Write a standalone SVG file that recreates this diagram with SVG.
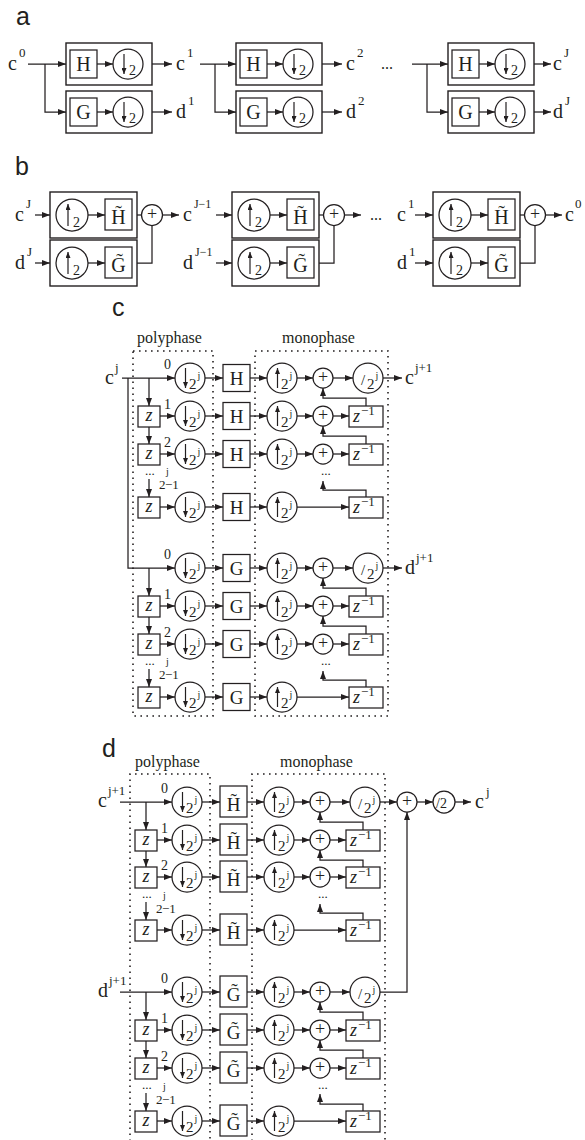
<svg xmlns="http://www.w3.org/2000/svg" width="585" height="1140" viewBox="0 0 585 1140">
<style>
.k{stroke:#231f20;stroke-width:1.25;fill:none}
.a{marker-end:url(#ah)}
.n{fill:#fff;stroke:#231f20;stroke-width:1.25}
.o{fill:none;stroke:#231f20;stroke-width:1.4}
.d{fill:none;stroke:#231f20;stroke-width:1.6;stroke-dasharray:1.6 4.4}
.i{stroke:#231f20;stroke-width:1.2;marker-end:url(#as)}
.t{font-family:"Liberation Serif","Times New Roman",serif;fill:#231f20}
.L{font-family:"Liberation Sans",Arial,sans-serif;font-size:25px;fill:#231f20}
.z{font-style:italic}
</style>
<defs>
<marker id="ah" viewBox="0 0 8 6" refX="8" refY="3" markerWidth="8" markerHeight="6" markerUnits="userSpaceOnUse" orient="auto"><path d="M0,0L8,3L0,6z" fill="#231f20"/></marker>
<marker id="as" viewBox="0 0 6 5" refX="6" refY="2.5" markerWidth="6" markerHeight="5" markerUnits="userSpaceOnUse" orient="auto"><path d="M0,0L6,2.5L0,5z" fill="#231f20"/></marker>
</defs>
<rect width="585" height="1140" fill="#fff"/>

<!-- ================= PART A ================= -->
<text class="L" x="16" y="25">a</text>
<g id="a-nodes">
<g id="a1-boxH"><rect class="o" x="66" y="43" width="86" height="42"/></g>
<g id="a1-boxG"><rect class="o" x="66" y="91" width="86" height="42"/></g>
<g id="a1-H" transform="translate(83.5,64)"><rect class="n" x="-13.5" y="-14" width="27" height="28"/><text class="t" y="7" font-size="20" text-anchor="middle">H</text></g>
<g id="a1-G" transform="translate(83.5,112)"><rect class="n" x="-13.5" y="-14" width="27" height="28"/><text class="t" y="7" font-size="20" text-anchor="middle">G</text></g>
<g id="a1-dnH" transform="translate(128,64)"><circle class="n" r="15"/><line class="i" x1="-4" y1="-10" x2="-4" y2="10"/><text class="t" x="1" y="11" font-size="14">2</text></g>
<g id="a1-dnG" transform="translate(128,112)"><circle class="n" r="15"/><line class="i" x1="-4" y1="-10" x2="-4" y2="10"/><text class="t" x="1" y="11" font-size="14">2</text></g>
<g id="a2-boxH"><rect class="o" x="236" y="43" width="86" height="42"/></g>
<g id="a2-boxG"><rect class="o" x="236" y="91" width="86" height="42"/></g>
<g id="a2-H" transform="translate(253.5,64)"><rect class="n" x="-13.5" y="-14" width="27" height="28"/><text class="t" y="7" font-size="20" text-anchor="middle">H</text></g>
<g id="a2-G" transform="translate(253.5,112)"><rect class="n" x="-13.5" y="-14" width="27" height="28"/><text class="t" y="7" font-size="20" text-anchor="middle">G</text></g>
<g id="a2-dnH" transform="translate(298,64)"><circle class="n" r="15"/><line class="i" x1="-4" y1="-10" x2="-4" y2="10"/><text class="t" x="1" y="11" font-size="14">2</text></g>
<g id="a2-dnG" transform="translate(298,112)"><circle class="n" r="15"/><line class="i" x1="-4" y1="-10" x2="-4" y2="10"/><text class="t" x="1" y="11" font-size="14">2</text></g>
<g id="a3-boxH"><rect class="o" x="448" y="43" width="86" height="42"/></g>
<g id="a3-boxG"><rect class="o" x="448" y="91" width="86" height="42"/></g>
<g id="a3-H" transform="translate(465.5,64)"><rect class="n" x="-13.5" y="-14" width="27" height="28"/><text class="t" y="7" font-size="20" text-anchor="middle">H</text></g>
<g id="a3-G" transform="translate(465.5,112)"><rect class="n" x="-13.5" y="-14" width="27" height="28"/><text class="t" y="7" font-size="20" text-anchor="middle">G</text></g>
<g id="a3-dnH" transform="translate(510,64)"><circle class="n" r="15"/><line class="i" x1="-4" y1="-10" x2="-4" y2="10"/><text class="t" x="1" y="11" font-size="14">2</text></g>
<g id="a3-dnG" transform="translate(510,112)"><circle class="n" r="15"/><line class="i" x1="-4" y1="-10" x2="-4" y2="10"/><text class="t" x="1" y="11" font-size="14">2</text></g>
</g>
<g id="a-texts">
<text class="t" x="8" y="70" font-size="20">c<tspan dx="2" dy="-13" font-size="13">0</tspan></text>
<text class="t" x="176" y="70" font-size="20">c<tspan dx="2" dy="-13" font-size="13">1</tspan></text>
<text class="t" x="176" y="118" font-size="20">d<tspan dx="2" dy="-13" font-size="13">1</tspan></text>
<text class="t" x="346" y="70" font-size="20">c<tspan dx="2" dy="-13" font-size="13">2</tspan></text>
<text class="t" x="346" y="118" font-size="20">d<tspan dx="2" dy="-13" font-size="13">2</tspan></text>
<text class="t" x="381" y="69" font-size="16">...</text>
<text class="t" x="553" y="70" font-size="20">c<tspan dx="2" dy="-13" font-size="13">J</tspan></text>
<text class="t" x="553" y="118" font-size="20">d<tspan dx="2" dy="-13" font-size="13">J</tspan></text>
</g>

<!-- ================= PART B ================= -->
<text class="L" x="15" y="175">b</text>
<g id="b-nodes">
<g id="b1-boxH"><rect class="o" x="50" y="192" width="87" height="46"/></g>
<g id="b1-boxG"><rect class="o" x="50" y="240" width="87" height="46"/></g>
<g id="b1-upH" transform="translate(72,215)"><circle class="n" r="16"/><line class="i" x1="-4" y1="11" x2="-4" y2="-11"/><text class="t" x="1" y="12" font-size="14">2</text></g>
<g id="b1-upG" transform="translate(72,263)"><circle class="n" r="16"/><line class="i" x1="-4" y1="11" x2="-4" y2="-11"/><text class="t" x="1" y="12" font-size="14">2</text></g>
<g id="b1-Ht" transform="translate(118.5,215)"><rect class="n" x="-13.5" y="-16" width="27" height="31"/><text class="t" y="9" font-size="20" text-anchor="middle">H̃</text></g>
<g id="b1-Gt" transform="translate(118.5,263)"><rect class="n" x="-13.5" y="-16" width="27" height="31"/><text class="t" y="9" font-size="20" text-anchor="middle">G̃</text></g>
<g id="b1-add" transform="translate(152,215)"><circle class="n" r="10.5"/><text class="t" y="5" font-size="18" text-anchor="middle">+</text></g>
<g id="b2-boxH"><rect class="o" x="232" y="192" width="87" height="46"/></g>
<g id="b2-boxG"><rect class="o" x="232" y="240" width="87" height="46"/></g>
<g id="b2-upH" transform="translate(254,215)"><circle class="n" r="16"/><line class="i" x1="-4" y1="11" x2="-4" y2="-11"/><text class="t" x="1" y="12" font-size="14">2</text></g>
<g id="b2-upG" transform="translate(254,263)"><circle class="n" r="16"/><line class="i" x1="-4" y1="11" x2="-4" y2="-11"/><text class="t" x="1" y="12" font-size="14">2</text></g>
<g id="b2-Ht" transform="translate(300.5,215)"><rect class="n" x="-13.5" y="-16" width="27" height="31"/><text class="t" y="9" font-size="20" text-anchor="middle">H̃</text></g>
<g id="b2-Gt" transform="translate(300.5,263)"><rect class="n" x="-13.5" y="-16" width="27" height="31"/><text class="t" y="9" font-size="20" text-anchor="middle">G̃</text></g>
<g id="b2-add" transform="translate(334,215)"><circle class="n" r="10.5"/><text class="t" y="5" font-size="18" text-anchor="middle">+</text></g>
<g id="b3-boxH"><rect class="o" x="433" y="192" width="87" height="46"/></g>
<g id="b3-boxG"><rect class="o" x="433" y="240" width="87" height="46"/></g>
<g id="b3-upH" transform="translate(455,215)"><circle class="n" r="16"/><line class="i" x1="-4" y1="11" x2="-4" y2="-11"/><text class="t" x="1" y="12" font-size="14">2</text></g>
<g id="b3-upG" transform="translate(455,263)"><circle class="n" r="16"/><line class="i" x1="-4" y1="11" x2="-4" y2="-11"/><text class="t" x="1" y="12" font-size="14">2</text></g>
<g id="b3-Ht" transform="translate(501.5,215)"><rect class="n" x="-13.5" y="-16" width="27" height="31"/><text class="t" y="9" font-size="20" text-anchor="middle">H̃</text></g>
<g id="b3-Gt" transform="translate(501.5,263)"><rect class="n" x="-13.5" y="-16" width="27" height="31"/><text class="t" y="9" font-size="20" text-anchor="middle">G̃</text></g>
<g id="b3-add" transform="translate(535,215)"><circle class="n" r="10.5"/><text class="t" y="5" font-size="18" text-anchor="middle">+</text></g>
</g>
<g id="b-texts">
<text class="t" x="15" y="221" font-size="20">c<tspan dx="2" dy="-13" font-size="13">J</tspan></text>
<text class="t" x="15" y="269" font-size="20">d<tspan dx="2" dy="-13" font-size="13">J</tspan></text>
<text class="t" x="183" y="221" font-size="20">c<tspan dx="2" dy="-13" font-size="12">J−1</tspan></text>
<text class="t" x="183" y="269" font-size="20">d<tspan dx="2" dy="-13" font-size="12">J−1</tspan></text>
<text class="t" x="370" y="220" font-size="16">...</text>
<text class="t" x="397" y="221" font-size="20">c<tspan dx="2" dy="-13" font-size="13">1</tspan></text>
<text class="t" x="397" y="269" font-size="20">d<tspan dx="2" dy="-13" font-size="13">1</tspan></text>
<text class="t" x="565" y="221" font-size="20">c<tspan dx="1" dy="-13" font-size="13">0</tspan></text>
</g>

<!-- ================= PART C ================= -->
<text class="L" x="112" y="316">c</text>
<text class="t" x="137" y="343" font-size="16">polyphase</text>
<text class="t" x="282" y="343" font-size="16">monophase</text>
<g id="c-frames">
<rect class="d" x="133" y="351" width="80" height="365"/>
<rect class="d" x="255" y="351" width="133" height="365"/>
</g>
<g id="c-nodes">
<g id="c-h0-down" transform="translate(190,378)"><circle class="n" r="15"/><line class="i" x1="-4.5" y1="-10" x2="-4.5" y2="10"/><text class="t" x="-1" y="11" font-size="15">2<tspan dx="1" dy="-10" font-size="10">j</tspan></text></g>
<g id="c-h0-H" transform="translate(236.5,378)"><rect class="n" x="-13.5" y="-13.5" width="27" height="27"/><text class="t" y="7" font-size="19" text-anchor="middle">H</text></g>
<g id="c-h0-up" transform="translate(282,378)"><circle class="n" r="15"/><line class="i" x1="-4.5" y1="10" x2="-4.5" y2="-10"/><text class="t" x="-1" y="11" font-size="15">2<tspan dx="1" dy="-10" font-size="10">j</tspan></text></g>
<g id="c-h0-add" transform="translate(323,378)"><circle class="n" r="10"/><text class="t" y="5" font-size="18" text-anchor="middle">+</text></g>
<g id="c-h0-div" transform="translate(368,378)"><circle class="n" r="15"/><text class="t" x="-7" y="7" font-size="15">/</text><text class="t" x="-1" y="11" font-size="15">2<tspan dx="1" dy="-10" font-size="10">j</tspan></text></g>

<g id="c-h1-z" transform="translate(149,416)"><rect class="n" x="-11" y="-10" width="22" height="21"/><text class="t z" y="5" font-size="18" text-anchor="middle">z</text></g>
<g id="c-h1-down" transform="translate(190,416)"><circle class="n" r="15"/><line class="i" x1="-4.5" y1="-10" x2="-4.5" y2="10"/><text class="t" x="-1" y="11" font-size="15">2<tspan dx="1" dy="-10" font-size="10">j</tspan></text></g>
<g id="c-h1-H" transform="translate(236.5,416)"><rect class="n" x="-13.5" y="-13.5" width="27" height="27"/><text class="t" y="7" font-size="19" text-anchor="middle">H</text></g>
<g id="c-h1-up" transform="translate(282,416)"><circle class="n" r="15"/><line class="i" x1="-4.5" y1="10" x2="-4.5" y2="-10"/><text class="t" x="-1" y="11" font-size="15">2<tspan dx="1" dy="-10" font-size="10">j</tspan></text></g>
<g id="c-h1-add" transform="translate(323,416)"><circle class="n" r="10"/><text class="t" y="5" font-size="18" text-anchor="middle">+</text></g>
<g id="c-h1-zinv" transform="translate(366,416)"><rect class="n" x="-17" y="-10" width="34" height="21"/><text class="t" x="-13" y="6" font-size="18"><tspan class="z">z</tspan><tspan dx="1" dy="-7" font-size="13">−1</tspan></text></g>

<g id="c-h2-z" transform="translate(149,454)"><rect class="n" x="-11" y="-10" width="22" height="21"/><text class="t z" y="5" font-size="18" text-anchor="middle">z</text></g>
<g id="c-h2-down" transform="translate(190,454)"><circle class="n" r="15"/><line class="i" x1="-4.5" y1="-10" x2="-4.5" y2="10"/><text class="t" x="-1" y="11" font-size="15">2<tspan dx="1" dy="-10" font-size="10">j</tspan></text></g>
<g id="c-h2-H" transform="translate(236.5,454)"><rect class="n" x="-13.5" y="-13.5" width="27" height="27"/><text class="t" y="7" font-size="19" text-anchor="middle">H</text></g>
<g id="c-h2-up" transform="translate(282,454)"><circle class="n" r="15"/><line class="i" x1="-4.5" y1="10" x2="-4.5" y2="-10"/><text class="t" x="-1" y="11" font-size="15">2<tspan dx="1" dy="-10" font-size="10">j</tspan></text></g>
<g id="c-h2-add" transform="translate(323,454)"><circle class="n" r="10"/><text class="t" y="5" font-size="18" text-anchor="middle">+</text></g>
<g id="c-h2-zinv" transform="translate(366,454)"><rect class="n" x="-17" y="-10" width="34" height="21"/><text class="t" x="-13" y="6" font-size="18"><tspan class="z">z</tspan><tspan dx="1" dy="-7" font-size="13">−1</tspan></text></g>

<g id="c-h3-z" transform="translate(149,507)"><rect class="n" x="-11" y="-10" width="22" height="21"/><text class="t z" y="5" font-size="18" text-anchor="middle">z</text></g>
<g id="c-h3-down" transform="translate(190,507)"><circle class="n" r="15"/><line class="i" x1="-4.5" y1="-10" x2="-4.5" y2="10"/><text class="t" x="-1" y="11" font-size="15">2<tspan dx="1" dy="-10" font-size="10">j</tspan></text></g>
<g id="c-h3-H" transform="translate(236.5,507)"><rect class="n" x="-13.5" y="-13.5" width="27" height="27"/><text class="t" y="7" font-size="19" text-anchor="middle">H</text></g>
<g id="c-h3-up" transform="translate(282,507)"><circle class="n" r="15"/><line class="i" x1="-4.5" y1="10" x2="-4.5" y2="-10"/><text class="t" x="-1" y="11" font-size="15">2<tspan dx="1" dy="-10" font-size="10">j</tspan></text></g>
<g id="c-h3-zinv" transform="translate(366,507)"><rect class="n" x="-17" y="-10" width="34" height="21"/><text class="t" x="-13" y="6" font-size="18"><tspan class="z">z</tspan><tspan dx="1" dy="-7" font-size="13">−1</tspan></text></g>

<g id="c-g0-down" transform="translate(190,568)"><circle class="n" r="15"/><line class="i" x1="-4.5" y1="-10" x2="-4.5" y2="10"/><text class="t" x="-1" y="11" font-size="15">2<tspan dx="1" dy="-10" font-size="10">j</tspan></text></g>
<g id="c-g0-G" transform="translate(236.5,568)"><rect class="n" x="-13.5" y="-13.5" width="27" height="27"/><text class="t" y="7" font-size="19" text-anchor="middle">G</text></g>
<g id="c-g0-up" transform="translate(282,568)"><circle class="n" r="15"/><line class="i" x1="-4.5" y1="10" x2="-4.5" y2="-10"/><text class="t" x="-1" y="11" font-size="15">2<tspan dx="1" dy="-10" font-size="10">j</tspan></text></g>
<g id="c-g0-add" transform="translate(323,568)"><circle class="n" r="10"/><text class="t" y="5" font-size="18" text-anchor="middle">+</text></g>
<g id="c-g0-div" transform="translate(368,568)"><circle class="n" r="15"/><text class="t" x="-7" y="7" font-size="15">/</text><text class="t" x="-1" y="11" font-size="15">2<tspan dx="1" dy="-10" font-size="10">j</tspan></text></g>

<g id="c-g1-z" transform="translate(149,606)"><rect class="n" x="-11" y="-10" width="22" height="21"/><text class="t z" y="5" font-size="18" text-anchor="middle">z</text></g>
<g id="c-g1-down" transform="translate(190,606)"><circle class="n" r="15"/><line class="i" x1="-4.5" y1="-10" x2="-4.5" y2="10"/><text class="t" x="-1" y="11" font-size="15">2<tspan dx="1" dy="-10" font-size="10">j</tspan></text></g>
<g id="c-g1-G" transform="translate(236.5,606)"><rect class="n" x="-13.5" y="-13.5" width="27" height="27"/><text class="t" y="7" font-size="19" text-anchor="middle">G</text></g>
<g id="c-g1-up" transform="translate(282,606)"><circle class="n" r="15"/><line class="i" x1="-4.5" y1="10" x2="-4.5" y2="-10"/><text class="t" x="-1" y="11" font-size="15">2<tspan dx="1" dy="-10" font-size="10">j</tspan></text></g>
<g id="c-g1-add" transform="translate(323,606)"><circle class="n" r="10"/><text class="t" y="5" font-size="18" text-anchor="middle">+</text></g>
<g id="c-g1-zinv" transform="translate(366,606)"><rect class="n" x="-17" y="-10" width="34" height="21"/><text class="t" x="-13" y="6" font-size="18"><tspan class="z">z</tspan><tspan dx="1" dy="-7" font-size="13">−1</tspan></text></g>

<g id="c-g2-z" transform="translate(149,644)"><rect class="n" x="-11" y="-10" width="22" height="21"/><text class="t z" y="5" font-size="18" text-anchor="middle">z</text></g>
<g id="c-g2-down" transform="translate(190,644)"><circle class="n" r="15"/><line class="i" x1="-4.5" y1="-10" x2="-4.5" y2="10"/><text class="t" x="-1" y="11" font-size="15">2<tspan dx="1" dy="-10" font-size="10">j</tspan></text></g>
<g id="c-g2-G" transform="translate(236.5,644)"><rect class="n" x="-13.5" y="-13.5" width="27" height="27" stroke-width="2.4"/><text class="t" y="7" font-size="19" text-anchor="middle">G</text></g>
<g id="c-g2-up" transform="translate(282,644)"><circle class="n" r="15"/><line class="i" x1="-4.5" y1="10" x2="-4.5" y2="-10"/><text class="t" x="-1" y="11" font-size="15">2<tspan dx="1" dy="-10" font-size="10">j</tspan></text></g>
<g id="c-g2-add" transform="translate(323,644)"><circle class="n" r="10"/><text class="t" y="5" font-size="18" text-anchor="middle">+</text></g>
<g id="c-g2-zinv" transform="translate(366,644)"><rect class="n" x="-17" y="-10" width="34" height="21"/><text class="t" x="-13" y="6" font-size="18"><tspan class="z">z</tspan><tspan dx="1" dy="-7" font-size="13">−1</tspan></text></g>

<g id="c-g3-z" transform="translate(149,697)"><rect class="n" x="-11" y="-10" width="22" height="21"/><text class="t z" y="5" font-size="18" text-anchor="middle">z</text></g>
<g id="c-g3-down" transform="translate(190,697)"><circle class="n" r="15"/><line class="i" x1="-4.5" y1="-10" x2="-4.5" y2="10"/><text class="t" x="-1" y="11" font-size="15">2<tspan dx="1" dy="-10" font-size="10">j</tspan></text></g>
<g id="c-g3-G" transform="translate(236.5,697)"><rect class="n" x="-13.5" y="-13.5" width="27" height="27"/><text class="t" y="7" font-size="19" text-anchor="middle">G</text></g>
<g id="c-g3-up" transform="translate(282,697)"><circle class="n" r="15"/><line class="i" x1="-4.5" y1="10" x2="-4.5" y2="-10"/><text class="t" x="-1" y="11" font-size="15">2<tspan dx="1" dy="-10" font-size="10">j</tspan></text></g>
<g id="c-g3-zinv" transform="translate(366,697)"><rect class="n" x="-17" y="-10" width="34" height="21"/><text class="t" x="-13" y="6" font-size="18"><tspan class="z">z</tspan><tspan dx="1" dy="-7" font-size="13">−1</tspan></text></g>
</g>
<g id="c-texts">
<text class="t" x="105" y="384" font-size="20">c<tspan dx="1" dy="-12" font-size="13">j</tspan></text>
<text class="t" x="405" y="384" font-size="20">c<tspan dx="1" dy="-12" font-size="13">j+1</tspan></text>
<text class="t" x="405" y="574" font-size="20">d<tspan dx="1" dy="-12" font-size="13">j+1</tspan></text>
<text class="t" x="164" y="369" font-size="14">0</text>
<text class="t" x="164" y="409" font-size="14">1</text>
<text class="t" x="164" y="447" font-size="14">2</text>
<text class="t" x="159" y="489" font-size="13">2<tspan x="166" dy="-14" font-size="10">j</tspan><tspan x="165" dy="14">−1</tspan></text>
<text class="t" x="145" y="475" font-size="13">...</text>
<text class="t" x="321" y="475" font-size="13">...</text>
<text class="t" x="164" y="559" font-size="14">0</text>
<text class="t" x="164" y="599" font-size="14">1</text>
<text class="t" x="164" y="637" font-size="14">2</text>
<text class="t" x="159" y="679" font-size="13">2<tspan x="166" dy="-14" font-size="10">j</tspan><tspan x="165" dy="14">−1</tspan></text>
<text class="t" x="145" y="665" font-size="13">...</text>
<text class="t" x="321" y="665" font-size="13">...</text>
</g>

<!-- ================= PART D ================= -->
<text class="L" x="102" y="757">d</text>
<text class="t" x="135" y="767" font-size="16">polyphase</text>
<text class="t" x="280" y="767" font-size="16">monophase</text>
<g id="d-frames">
<path class="d" d="M130,1141V774H210V1141"/>
<path class="d" d="M252,1141V774H385V1141"/>
</g>
<g id="d-nodes">
<g id="d-h0-down" transform="translate(187,802)"><circle class="n" r="15"/><line class="i" x1="-4.5" y1="-10" x2="-4.5" y2="10"/><text class="t" x="-1" y="11" font-size="15">2<tspan dx="1" dy="-10" font-size="10">j</tspan></text></g>
<g id="d-h0-Ht" transform="translate(233.5,802)"><rect class="n" x="-13.5" y="-16" width="27" height="31"/><text class="t" y="9" font-size="19" text-anchor="middle">H̃</text></g>
<g id="d-h0-up" transform="translate(279,802)"><circle class="n" r="15"/><line class="i" x1="-4.5" y1="10" x2="-4.5" y2="-10"/><text class="t" x="-1" y="11" font-size="15">2<tspan dx="1" dy="-10" font-size="10">j</tspan></text></g>
<g id="d-h0-add" transform="translate(320,802)"><circle class="n" r="10"/><text class="t" y="5" font-size="18" text-anchor="middle">+</text></g>
<g id="d-h0-div" transform="translate(365,802)"><circle class="n" r="15"/><text class="t" x="-7" y="7" font-size="15">/</text><text class="t" x="-1" y="11" font-size="15">2<tspan dx="1" dy="-10" font-size="10">j</tspan></text></g>

<g id="d-h1-z" transform="translate(146,840)"><rect class="n" x="-11" y="-10" width="22" height="21"/><text class="t z" y="5" font-size="18" text-anchor="middle">z</text></g>
<g id="d-h1-down" transform="translate(187,840)"><circle class="n" r="15"/><line class="i" x1="-4.5" y1="-10" x2="-4.5" y2="10"/><text class="t" x="-1" y="11" font-size="15">2<tspan dx="1" dy="-10" font-size="10">j</tspan></text></g>
<g id="d-h1-Ht" transform="translate(233.5,840)"><rect class="n" x="-13.5" y="-16" width="27" height="31"/><text class="t" y="9" font-size="19" text-anchor="middle">H̃</text></g>
<g id="d-h1-up" transform="translate(279,840)"><circle class="n" r="15"/><line class="i" x1="-4.5" y1="10" x2="-4.5" y2="-10"/><text class="t" x="-1" y="11" font-size="15">2<tspan dx="1" dy="-10" font-size="10">j</tspan></text></g>
<g id="d-h1-add" transform="translate(320,840)"><circle class="n" r="10"/><text class="t" y="5" font-size="18" text-anchor="middle">+</text></g>
<g id="d-h1-zinv" transform="translate(363,840)"><rect class="n" x="-17" y="-10" width="34" height="21"/><text class="t" x="-13" y="6" font-size="18"><tspan class="z">z</tspan><tspan dx="1" dy="-7" font-size="13">−1</tspan></text></g>

<g id="d-h2-z" transform="translate(146,877)"><rect class="n" x="-11" y="-10" width="22" height="21"/><text class="t z" y="5" font-size="18" text-anchor="middle">z</text></g>
<g id="d-h2-down" transform="translate(187,877)"><circle class="n" r="15"/><line class="i" x1="-4.5" y1="-10" x2="-4.5" y2="10"/><text class="t" x="-1" y="11" font-size="15">2<tspan dx="1" dy="-10" font-size="10">j</tspan></text></g>
<g id="d-h2-Ht" transform="translate(233.5,877)"><rect class="n" x="-13.5" y="-16" width="27" height="31"/><text class="t" y="9" font-size="19" text-anchor="middle">H̃</text></g>
<g id="d-h2-up" transform="translate(279,877)"><circle class="n" r="15"/><line class="i" x1="-4.5" y1="10" x2="-4.5" y2="-10"/><text class="t" x="-1" y="11" font-size="15">2<tspan dx="1" dy="-10" font-size="10">j</tspan></text></g>
<g id="d-h2-add" transform="translate(320,877)"><circle class="n" r="10"/><text class="t" y="5" font-size="18" text-anchor="middle">+</text></g>
<g id="d-h2-zinv" transform="translate(363,877)"><rect class="n" x="-17" y="-10" width="34" height="21"/><text class="t" x="-13" y="6" font-size="18"><tspan class="z">z</tspan><tspan dx="1" dy="-7" font-size="13">−1</tspan></text></g>

<g id="d-h3-z" transform="translate(146,930)"><rect class="n" x="-11" y="-10" width="22" height="21"/><text class="t z" y="5" font-size="18" text-anchor="middle">z</text></g>
<g id="d-h3-down" transform="translate(187,930)"><circle class="n" r="15"/><line class="i" x1="-4.5" y1="-10" x2="-4.5" y2="10"/><text class="t" x="-1" y="11" font-size="15">2<tspan dx="1" dy="-10" font-size="10">j</tspan></text></g>
<g id="d-h3-Ht" transform="translate(233.5,930)"><rect class="n" x="-13.5" y="-16" width="27" height="31"/><text class="t" y="9" font-size="19" text-anchor="middle">H̃</text></g>
<g id="d-h3-up" transform="translate(279,930)"><circle class="n" r="15"/><line class="i" x1="-4.5" y1="10" x2="-4.5" y2="-10"/><text class="t" x="-1" y="11" font-size="15">2<tspan dx="1" dy="-10" font-size="10">j</tspan></text></g>
<g id="d-h3-zinv" transform="translate(363,930)"><rect class="n" x="-17" y="-10" width="34" height="21"/><text class="t" x="-13" y="6" font-size="18"><tspan class="z">z</tspan><tspan dx="1" dy="-7" font-size="13">−1</tspan></text></g>

<g id="d-g0-down" transform="translate(187,992)"><circle class="n" r="15"/><line class="i" x1="-4.5" y1="-10" x2="-4.5" y2="10"/><text class="t" x="-1" y="11" font-size="15">2<tspan dx="1" dy="-10" font-size="10">j</tspan></text></g>
<g id="d-g0-Gt" transform="translate(233.5,992)"><rect class="n" x="-13.5" y="-16" width="27" height="31"/><text class="t" y="9" font-size="19" text-anchor="middle">G̃</text></g>
<g id="d-g0-up" transform="translate(279,992)"><circle class="n" r="15"/><line class="i" x1="-4.5" y1="10" x2="-4.5" y2="-10"/><text class="t" x="-1" y="11" font-size="15">2<tspan dx="1" dy="-10" font-size="10">j</tspan></text></g>
<g id="d-g0-add" transform="translate(320,992)"><circle class="n" r="10"/><text class="t" y="5" font-size="18" text-anchor="middle">+</text></g>
<g id="d-g0-div" transform="translate(365,992)"><circle class="n" r="15"/><text class="t" x="-7" y="7" font-size="15">/</text><text class="t" x="-1" y="11" font-size="15">2<tspan dx="1" dy="-10" font-size="10">j</tspan></text></g>

<g id="d-g1-z" transform="translate(146,1030)"><rect class="n" x="-11" y="-10" width="22" height="21"/><text class="t z" y="5" font-size="18" text-anchor="middle">z</text></g>
<g id="d-g1-down" transform="translate(187,1030)"><circle class="n" r="15"/><line class="i" x1="-4.5" y1="-10" x2="-4.5" y2="10"/><text class="t" x="-1" y="11" font-size="15">2<tspan dx="1" dy="-10" font-size="10">j</tspan></text></g>
<g id="d-g1-Gt" transform="translate(233.5,1030)"><rect class="n" x="-13.5" y="-16" width="27" height="31"/><text class="t" y="9" font-size="19" text-anchor="middle">G̃</text></g>
<g id="d-g1-up" transform="translate(279,1030)"><circle class="n" r="15"/><line class="i" x1="-4.5" y1="10" x2="-4.5" y2="-10"/><text class="t" x="-1" y="11" font-size="15">2<tspan dx="1" dy="-10" font-size="10">j</tspan></text></g>
<g id="d-g1-add" transform="translate(320,1030)"><circle class="n" r="10"/><text class="t" y="5" font-size="18" text-anchor="middle">+</text></g>
<g id="d-g1-zinv" transform="translate(363,1030)"><rect class="n" x="-17" y="-10" width="34" height="21"/><text class="t" x="-13" y="6" font-size="18"><tspan class="z">z</tspan><tspan dx="1" dy="-7" font-size="13">−1</tspan></text></g>

<g id="d-g2-z" transform="translate(146,1068)"><rect class="n" x="-11" y="-10" width="22" height="21"/><text class="t z" y="5" font-size="18" text-anchor="middle">z</text></g>
<g id="d-g2-down" transform="translate(187,1068)"><circle class="n" r="15"/><line class="i" x1="-4.5" y1="-10" x2="-4.5" y2="10"/><text class="t" x="-1" y="11" font-size="15">2<tspan dx="1" dy="-10" font-size="10">j</tspan></text></g>
<g id="d-g2-Gt" transform="translate(233.5,1068)"><rect class="n" x="-13.5" y="-16" width="27" height="31"/><text class="t" y="9" font-size="19" text-anchor="middle">G̃</text></g>
<g id="d-g2-up" transform="translate(279,1068)"><circle class="n" r="15"/><line class="i" x1="-4.5" y1="10" x2="-4.5" y2="-10"/><text class="t" x="-1" y="11" font-size="15">2<tspan dx="1" dy="-10" font-size="10">j</tspan></text></g>
<g id="d-g2-add" transform="translate(320,1068)"><circle class="n" r="10"/><text class="t" y="5" font-size="18" text-anchor="middle">+</text></g>
<g id="d-g2-zinv" transform="translate(363,1068)"><rect class="n" x="-17" y="-10" width="34" height="21"/><text class="t" x="-13" y="6" font-size="18"><tspan class="z">z</tspan><tspan dx="1" dy="-7" font-size="13">−1</tspan></text></g>

<g id="d-g3-z" transform="translate(146,1121)"><rect class="n" x="-11" y="-10" width="22" height="21"/><text class="t z" y="5" font-size="18" text-anchor="middle">z</text></g>
<g id="d-g3-down" transform="translate(187,1121)"><circle class="n" r="15"/><line class="i" x1="-4.5" y1="-10" x2="-4.5" y2="10"/><text class="t" x="-1" y="11" font-size="15">2<tspan dx="1" dy="-10" font-size="10">j</tspan></text></g>
<g id="d-g3-Gt" transform="translate(233.5,1121)"><rect class="n" x="-13.5" y="-16" width="27" height="31"/><text class="t" y="9" font-size="19" text-anchor="middle">G̃</text></g>
<g id="d-g3-up" transform="translate(279,1121)"><circle class="n" r="15"/><line class="i" x1="-4.5" y1="10" x2="-4.5" y2="-10"/><text class="t" x="-1" y="11" font-size="15">2<tspan dx="1" dy="-10" font-size="10">j</tspan></text></g>
<g id="d-g3-zinv" transform="translate(363,1121)"><rect class="n" x="-17" y="-10" width="34" height="21"/><text class="t" x="-13" y="6" font-size="18"><tspan class="z">z</tspan><tspan dx="1" dy="-7" font-size="13">−1</tspan></text></g>

<g id="d-sum" transform="translate(407,802)"><circle class="n" r="10"/><text class="t" y="5" font-size="18" text-anchor="middle">+</text></g>
<g id="d-half" transform="translate(444,802)"><circle class="n" r="11"/><text class="t" x="-8" y="6" font-size="14">/2</text></g>
</g>
<g id="d-texts">
<text class="t" x="98" y="807" font-size="20">c<tspan dx="1" dy="-12" font-size="13">j+1</tspan></text>
<text class="t" x="98" y="997" font-size="20">d<tspan dx="1" dy="-12" font-size="13">j+1</tspan></text>
<text class="t" x="475" y="808" font-size="20">c<tspan dx="2" dy="-12" font-size="13">j</tspan></text>
<text class="t" x="161" y="793" font-size="14">0</text>
<text class="t" x="161" y="833" font-size="14">1</text>
<text class="t" x="161" y="870" font-size="14">2</text>
<text class="t" x="156" y="913" font-size="13">2<tspan x="163" dy="-14" font-size="10">j</tspan><tspan x="162" dy="14">−1</tspan></text>
<text class="t" x="142" y="898" font-size="13">...</text>
<text class="t" x="318" y="898" font-size="13">...</text>
<text class="t" x="161" y="983" font-size="14">0</text>
<text class="t" x="161" y="1023" font-size="14">1</text>
<text class="t" x="161" y="1061" font-size="14">2</text>
<text class="t" x="156" y="1104" font-size="13">2<tspan x="163" dy="-14" font-size="10">j</tspan><tspan x="162" dy="14">−1</tspan></text>
<text class="t" x="142" y="1089" font-size="13">...</text>
<text class="t" x="318" y="1089" font-size="13">...</text>
</g>

<!-- ================= CONNECTORS ================= -->
<g id="connectors">
<path class="k a" d="M28,64H66"/><path class="k a" d="M45,64V112H66"/>
<path class="k a" d="M97,64H113"/><path class="k a" d="M97,112H113"/>
<path class="k a" d="M152,64H172"/><path class="k a" d="M152,112H172"/>
<path class="k a" d="M200,64H236"/><path class="k a" d="M215,64V112H236"/>
<path class="k a" d="M267,64H283"/><path class="k a" d="M267,112H283"/>
<path class="k a" d="M322,64H342"/><path class="k a" d="M322,112H342"/>
<path class="k a" d="M412,64H448"/><path class="k a" d="M427,64V112H448"/>
<path class="k a" d="M479,64H495"/><path class="k a" d="M479,112H495"/>
<path class="k a" d="M534,64H551"/><path class="k a" d="M534,112H551"/>
<path class="k a" d="M35,215H50"/><path class="k a" d="M35,263H50"/>
<path class="k a" d="M88,215H105"/><path class="k a" d="M88,263H105"/>
<path class="k" d="M137,215H141.5"/><path class="k" d="M137,263H152V225.5"/>
<path class="k a" d="M162.5,215H179"/>
<path class="k a" d="M216,215H232"/><path class="k a" d="M216,263H232"/>
<path class="k a" d="M270,215H287"/><path class="k a" d="M270,263H287"/>
<path class="k" d="M319,215H323.5"/><path class="k" d="M319,263H334V225.5"/>
<path class="k a" d="M344.5,215H361"/>
<path class="k a" d="M415,215H433"/><path class="k a" d="M415,263H433"/>
<path class="k a" d="M471,215H488"/><path class="k a" d="M471,263H488"/>
<path class="k" d="M520,215H524.5"/><path class="k" d="M520,263H535V225.5"/>
<path class="k a" d="M545.5,215H562"/>
<path class="k a" d="M122,378H175"/>
<path class="k a" d="M128,378V568H175"/>
<path class="k a" d="M149,378V406"/><path class="k a" d="M149,427V444"/><path class="k a" d="M149,479V497"/>
<path class="k a" d="M160,416H175"/><path class="k a" d="M160,454H175"/><path class="k a" d="M160,507H175"/>
<path class="k a" d="M205,378H223"/><path class="k a" d="M205,416H223"/><path class="k a" d="M205,454H223"/><path class="k a" d="M205,507H223"/>
<path class="k a" d="M250,378H267"/><path class="k a" d="M250,416H267"/><path class="k a" d="M250,454H267"/><path class="k a" d="M250,507H267"/>
<path class="k a" d="M297,378H313"/><path class="k a" d="M297,416H313"/><path class="k a" d="M297,454H313"/><path class="k a" d="M297,507H349"/>
<path class="k a" d="M333,378H353"/><path class="k a" d="M333,416H349"/><path class="k a" d="M333,454H349"/>
<path class="k a" d="M383,378H402"/>
<path class="k a" d="M366,406V398H323V388"/><path class="k a" d="M366,444V436H323V426"/><path class="k a" d="M366,497V490H323V481"/>
<path class="k a" d="M149,568V596"/><path class="k a" d="M149,617V634"/><path class="k a" d="M149,669V687"/>
<path class="k a" d="M160,606H175"/><path class="k a" d="M160,644H175"/><path class="k a" d="M160,697H175"/>
<path class="k a" d="M205,568H223"/><path class="k a" d="M205,606H223"/><path class="k a" d="M205,644H223"/><path class="k a" d="M205,697H223"/>
<path class="k a" d="M250,568H267"/><path class="k a" d="M250,606H267"/><path class="k a" d="M250,644H267"/><path class="k a" d="M250,697H267"/>
<path class="k a" d="M297,568H313"/><path class="k a" d="M297,606H313"/><path class="k a" d="M297,644H313"/><path class="k a" d="M297,697H349"/>
<path class="k a" d="M333,568H353"/><path class="k a" d="M333,606H349"/><path class="k a" d="M333,644H349"/>
<path class="k a" d="M383,568H402"/>
<path class="k a" d="M366,596V588H323V578"/><path class="k a" d="M366,634V626H323V616"/><path class="k a" d="M366,687V680H323V671"/>
<path class="k a" d="M120,802H172"/>
<path class="k a" d="M146,802V830"/><path class="k a" d="M146,851V867"/><path class="k a" d="M146,902V920"/>
<path class="k a" d="M157,840H172"/><path class="k a" d="M157,877H172"/><path class="k a" d="M157,930H172"/>
<path class="k a" d="M202,802H220"/><path class="k a" d="M202,840H220"/><path class="k a" d="M202,877H220"/><path class="k a" d="M202,930H220"/>
<path class="k a" d="M247,802H264"/><path class="k a" d="M247,840H264"/><path class="k a" d="M247,877H264"/><path class="k a" d="M247,930H264"/>
<path class="k a" d="M294,802H310"/><path class="k a" d="M294,840H310"/><path class="k a" d="M294,877H310"/><path class="k a" d="M294,930H346"/>
<path class="k a" d="M330,802H350"/><path class="k a" d="M330,840H346"/><path class="k a" d="M330,877H346"/>
<path class="k a" d="M380,802H397"/>
<path class="k a" d="M363,830V822H320V812"/><path class="k a" d="M363,867V860H320V850"/><path class="k a" d="M363,920V913H320V904"/>
<path class="k a" d="M120,992H172"/>
<path class="k a" d="M146,992V1020"/><path class="k a" d="M146,1041V1058"/><path class="k a" d="M146,1093V1111"/>
<path class="k a" d="M157,1030H172"/><path class="k a" d="M157,1068H172"/><path class="k a" d="M157,1121H172"/>
<path class="k a" d="M202,992H220"/><path class="k a" d="M202,1030H220"/><path class="k a" d="M202,1068H220"/><path class="k a" d="M202,1121H220"/>
<path class="k a" d="M247,992H264"/><path class="k a" d="M247,1030H264"/><path class="k a" d="M247,1068H264"/><path class="k a" d="M247,1121H264"/>
<path class="k a" d="M294,992H310"/><path class="k a" d="M294,1030H310"/><path class="k a" d="M294,1068H310"/><path class="k a" d="M294,1121H346"/>
<path class="k a" d="M330,992H350"/><path class="k a" d="M330,1030H346"/><path class="k a" d="M330,1068H346"/>
<path class="k a" d="M380,992H407V812"/>
<path class="k a" d="M363,1020V1012H320V1002"/><path class="k a" d="M363,1058V1050H320V1040"/><path class="k a" d="M363,1111V1104H320V1094"/>
<path class="k a" d="M417,802H433"/><path class="k a" d="M455,802H471"/>
</g>
</svg>
